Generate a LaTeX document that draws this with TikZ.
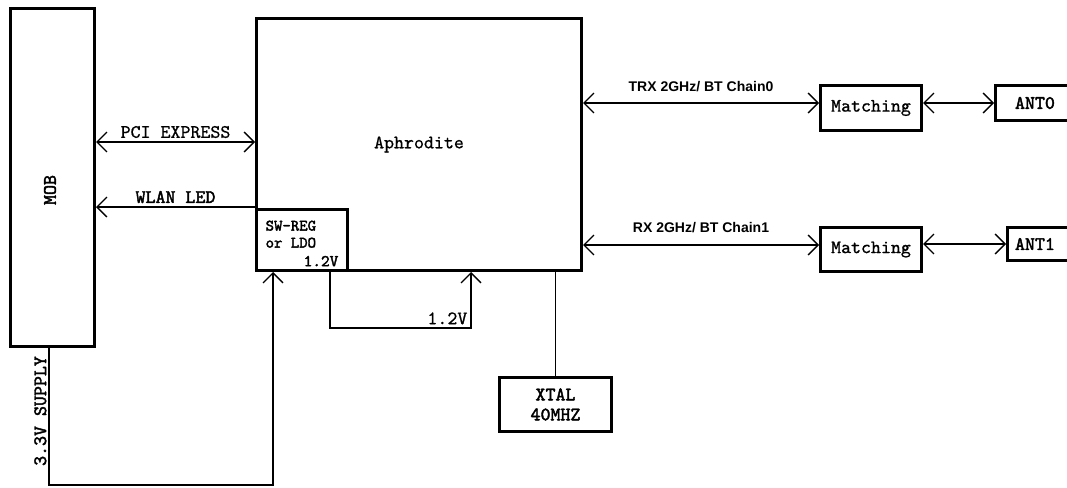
\documentclass[tikz,border=0pt]{standalone}
\usepackage{fontspec}
\setsansfont{Liberation Sans}
\newfontfamily\regtt{lmmono10-regular.otf}[FakeBold=0.8]
\newfontfamily\boldtt{lmmono10-regular.otf}[FakeBold=2.2]
\usetikzlibrary{arrows.meta}

\begin{document}
\begin{tikzpicture}[x=1pt,y=-1pt,>={Straight Barb[length=10pt,width=20pt]},line width=1.3pt,
    blk/.style={draw,line width=3pt,inner sep=0pt},
    mono/.style={font=\regtt\fontsize{19}{20}\selectfont},
    monob/.style={font=\boldtt\fontsize{19}{20}\selectfont},
    rflbl/.style={font=\sffamily\bfseries\fontsize{14}{16}\selectfont}]
  \useasboundingbox[fill=white] (0,0) rectangle (1067,487);
  % blocks
  \node[blk,minimum width=84pt,minimum height=338pt] (mob) at (52.5,177.5) {};
  \node[monob,rotate=90] (mobtxt) at (50,190) {MOB};
  \node[blk,mono,minimum width=325pt,minimum height=252pt] (aph) at (419,144.5) {Aphrodite};
  \node[blk,minimum width=91pt,minimum height=61pt] (swreg) at (302,240) {};
  \node[font=\boldtt\fontsize{16}{17}\selectfont,anchor=north west,align=left,inner sep=0pt,
        xshift=10pt,yshift=-12pt] (swregtxt) at (swreg.north west) {SW-REG\\or LDO};
  \node[font=\boldtt\fontsize{16.5}{18}\selectfont,anchor=south east,inner sep=0pt,
        xshift=-10pt,yshift=5pt] (swregv) at (swreg.south east) {1.2V};
  \node[blk,monob,align=center,minimum width=112pt,minimum height=54pt] (xtal) at (555.5,404.5) {XTAL\\40MHZ};
  \node[blk,mono,minimum width=101pt,minimum height=45pt] (match0) at (871,108) {Matching};
  \node[blk,mono,minimum width=101pt,minimum height=44pt] (match1) at (871,249.5) {Matching};
  \node[blk,monob,anchor=west,minimum height=35pt,text width=60pt,align=left,inner xsep=19.5pt]
    (ant0) at (994,103) {ANT0};
  \node[blk,monob,anchor=west,minimum height=33pt,text width=72pt,align=left,inner xsep=7.5pt]
    (ant1) at (1006,244) {ANT1};
  % host side
  \draw[<->] (mob.east |- 0,142) -- node[mono,above] {PCI EXPRESS} (aph.west |- 0,142);
  \draw[->] (aph.west |- 0,207) -- node[monob,above] {WLAN LED} (mob.east |- 0,207);
  % supplies
  \draw[->] (mob.south -| 49,0) -- ++(0,137) -| (swreg.south -| 273,0);
  \node[monob,rotate=90,anchor=south,inner sep=2pt] (supply) at (49,411) {3.3V SUPPLY};
  \draw[->] (swreg.south -| 330,0) -- ++(0,56) -- ++(141,0)
    node[mono,above left,inner sep=3pt] {1.2V} -- (aph.south -| 471,0);
  \draw (xtal.north) -- (xtal.north |- aph.south);
  % RF chains
  \draw[<->] (aph.east |- 0,103) -- node[rflbl,above=7pt] {TRX 2GHz/ BT Chain0} (match0.west |- 0,103);
  \draw[<->] (aph.east |- 0,245) -- node[rflbl,above=8pt] {RX 2GHz/ BT Chain1} (match1.west |- 0,245);
  \draw[<->] (match0.east |- ant0.west) -- (ant0.west);
  \draw[<->] (match1.east |- ant1.west) -- (ant1.west);
\end{tikzpicture}
\end{document}
